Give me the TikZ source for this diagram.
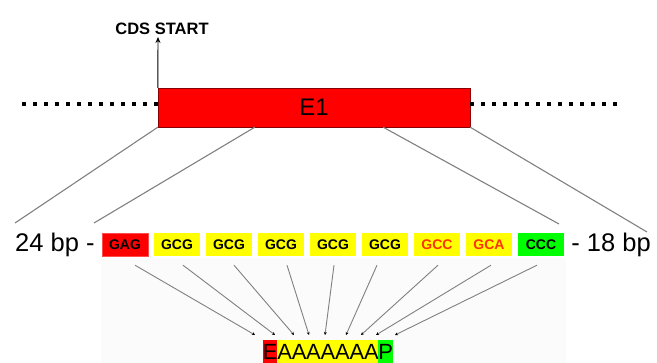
\documentclass[tikz,border=0pt]{standalone}
\usepackage{fontspec}
\setmainfont{Liberation Sans}
\usepackage[svgnames]{xcolor}
\usetikzlibrary{positioning, arrows.meta, calc}

\definecolor{exonred}{RGB}{255,0,0}
\definecolor{codonyellow}{RGB}{255,255,0}
\definecolor{codongreen}{RGB}{0,255,0}
\definecolor{aaorange}{RGB}{255,51,0}
\definecolor{linkgray}{RGB}{128,128,128}

\tikzset{
    codon/.style={fill=#1, minimum width=46pt, minimum height=23pt, inner sep=0pt,
        font=\fontsize{14}{14}\selectfont\bfseries},
    residue/.style={fill=#1, minimum width=14.45pt, minimum height=23pt, inner sep=0pt,
        font=\fontsize{22}{22}\selectfont},
    link/.style={linkgray, line width=1.1pt},
    pointer/.style={linkgray, line width=0.9pt, -{Stealth[length=3pt, width=3pt, black]}},
    intron/.style={line width=4pt, dash pattern=on 4pt off 7pt}
}

\begin{document}
\begin{tikzpicture}[x=1pt, y=-1pt]
    \useasboundingbox (0,0) rectangle (657,363);

    % faint panel behind the pointers
    \fill[black!1.5] (101,258) rectangle (566,363);

    % exon
    \node[draw=DarkRed, fill=exonred, minimum width=312pt, minimum height=39pt,
          inner sep=0pt, font=\fontsize{24}{24}\selectfont] (E1) at (314,107.5) {E1};

    % dotted flanks
    \coordinate (leftend) at (15,104);
    \coordinate (rightend) at (617,104);
    \draw[intron] ([yshift=3.5pt]E1.west) -- (leftend);
    \draw[intron] ([yshift=3.5pt]E1.east) -- (rightend);

    % CDS start
    \coordinate (cdstip) at (158,37);
    \draw[black, line width=0.9pt, -{Stealth[length=6pt, width=5pt]}] (E1.north west) -- (cdstip);
    \node[above=2pt of cdstip, xshift=4pt, inner sep=0pt, font=\fontsize{16.5}{16.5}\selectfont\bfseries] (cds) {CDS START};

    % codons
    \foreach \i/\tri/\col/\txt in {
        1/GAG/exonred/black,
        2/GCG/codonyellow/black,
        3/GCG/codonyellow/black,
        4/GCG/codonyellow/black,
        5/GCG/codonyellow/black,
        6/GCG/codonyellow/black,
        7/GCC/codonyellow/aaorange,
        8/GCA/codonyellow/aaorange,
        9/CCC/codongreen/black}
    {
        \node[codon=\col, text=\txt] (c\i) at (125+52*\i-52, 244.5) {\tri};
    }
    \draw[exonred!70!white, line width=0.4pt] (c1.south west) rectangle (c1.north east);

    \node[left=7pt of c1, inner sep=0pt, font=\fontsize{25.5}{25.5}\selectfont] (left) {24 bp -};
    \node[right=7pt of c9, inner sep=0pt, font=\fontsize{25.5}{25.5}\selectfont] (right) {- 18 bp};

    % zoom lines from the exon
    \coordinate (z1) at (15,223);
    \coordinate (z2) at (94,223);
    \coordinate (z3) at (559,224);
    \coordinate (z4) at (647,232);
    \draw[link] (E1.south west) -- (z1);
    \draw[link] ([xshift=97pt]E1.south west) -- (z2);
    \draw[link] ([xshift=-87pt]E1.south east) -- (z3);
    \draw[link] (E1.south east) -- (z4);

    % protein
    \foreach \i/\aa/\col in {
        1/E/exonred,
        2/A/codonyellow,
        3/A/codonyellow,
        4/A/codonyellow,
        5/A/codonyellow,
        6/A/codonyellow,
        7/A/codonyellow,
        8/A/codonyellow,
        9/P/codongreen}
    {
        \node[residue=\col] (r\i) at (270.2+14.45*\i-14.45, 351.5) {\aa};
    }

    % pointers from codons to the protein
    \foreach \i/\dx/\tx in {
        1/10/255,
        2/6/275,
        3/5/294,
        4/6/309,
        5/1/325,
        6/-8/346,
        7/1/361,
        8/2/376,
        9/-4/395}
    {
        \coordinate (t\i) at (\tx,335);
        \draw[pointer] ([xshift=\dx pt, yshift=-9pt]c\i.south) -- (t\i);
    }
\end{tikzpicture}
\end{document}
